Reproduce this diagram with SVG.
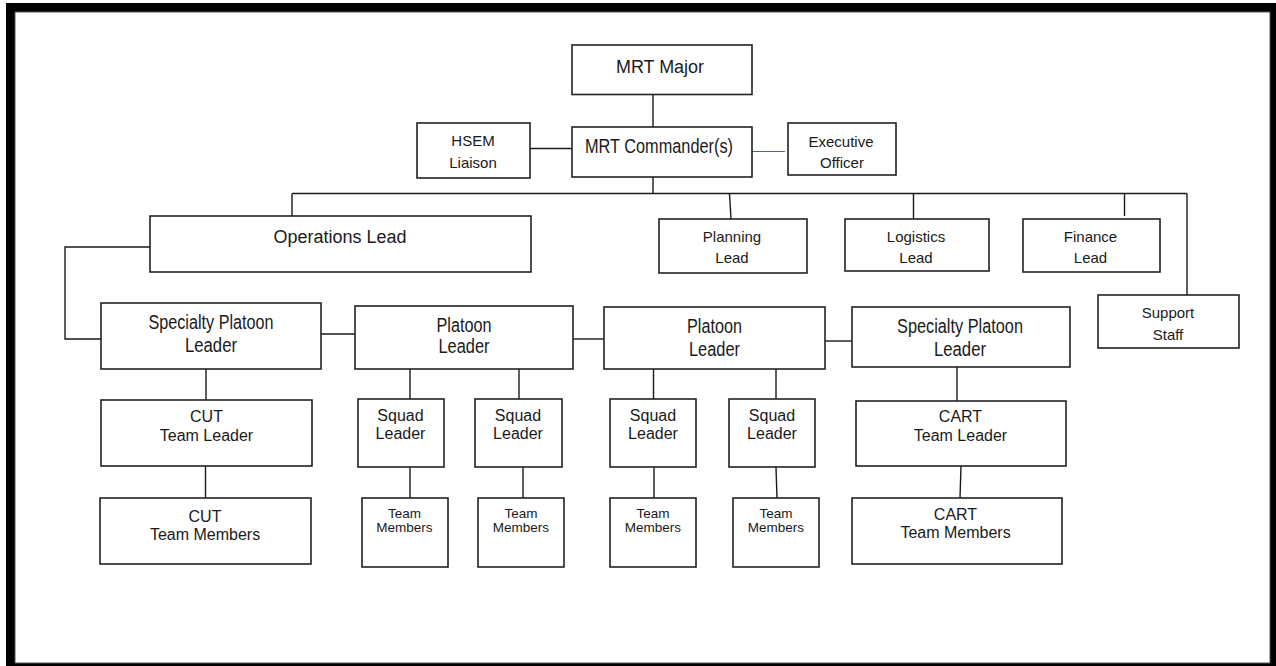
<svg xmlns="http://www.w3.org/2000/svg" width="1276" height="666" viewBox="0 0 1276 666">
<style>
.box{fill:#fff;stroke:#222;stroke-width:1.6}
.c{fill:none;stroke:#1a1a1a;stroke-width:1.4}
.cb{fill:none;stroke:#4e6484;stroke-width:1.2}
text{font-family:"Liberation Sans",Arial,sans-serif;fill:#1a1a1a;text-anchor:middle}
.s15{font-size:15px}
.s16{font-size:16px}
.s18{font-size:18px}
.n20{font-size:20px}
.s14{font-size:13.5px}
</style>
<rect x="0" y="0" width="1276" height="666" fill="#fff"/>
<rect x="6" y="3" width="1270" height="663" fill="#000"/>
<rect x="15" y="12" width="1255" height="651" fill="#fff" stroke="#555" stroke-width="1"/>

<g id="connectors">
<path class="c" d="M653,95V127"/>
<path class="c" d="M530,148.5H572"/>
<path class="cb" d="M752,151.5H785"/>
<path class="c" d="M653,177V193.5"/>
<path class="c" d="M292,193.5H1187"/>
<path class="c" d="M292,193.5V216"/>
<path class="c" d="M729.5,193.5L731,219"/>
<path class="c" d="M913.5,193.5V219"/>
<path class="c" d="M1124.5,193.5V216"/>
<path class="c" d="M1187,193.5V295"/>
<path class="c" d="M151,247H65V339H101"/>
<path class="c" d="M321,334H355"/>
<path class="c" d="M573,339H604"/>
<path class="c" d="M825,341H852"/>
<path class="c" d="M206,369V400"/>
<path class="c" d="M205.5,466V498"/>
<path class="c" d="M410,369V399"/>
<path class="c" d="M410,467V498"/>
<path class="c" d="M519,369V399"/>
<path class="c" d="M523,467V498"/>
<path class="c" d="M653.5,369V399"/>
<path class="c" d="M654,467V498"/>
<path class="c" d="M776,369V399"/>
<path class="c" d="M776,467L777,498"/>
<path class="c" d="M957,367V401"/>
<path class="c" d="M961,466L960,498"/>
</g>

<g id="mrt-major">
<rect class="box" x="572" y="45" width="180" height="49.5"/>
<text class="s18" x="660" y="73" textLength="88" lengthAdjust="spacingAndGlyphs">MRT Major</text>
</g>
<g id="hsem-liaison">
<rect class="box" x="417" y="123" width="113" height="55"/>
<text class="s15" x="473" y="146">HSEM</text>
<text class="s15" x="473" y="168">Liaison</text>
</g>
<g id="mrt-commander">
<rect class="box" x="572" y="127" width="180" height="50"/>
<text class="n20" x="659" y="153" textLength="148" lengthAdjust="spacingAndGlyphs">MRT Commander(s)</text>
</g>
<g id="executive-officer">
<rect class="box" x="788" y="123" width="108" height="52"/>
<text class="s15" x="841" y="146.5">Executive</text>
<text class="s15" x="842" y="168">Officer</text>
</g>
<g id="operations-lead">
<rect class="box" x="150" y="216" width="381" height="56"/>
<text class="s18" x="340" y="243" textLength="133" lengthAdjust="spacingAndGlyphs">Operations Lead</text>
</g>
<g id="planning-lead">
<rect class="box" x="659" y="219" width="148" height="54"/>
<text class="s15" x="732" y="242">Planning</text>
<text class="s15" x="732" y="263">Lead</text>
</g>
<g id="logistics-lead">
<rect class="box" x="845" y="219" width="144" height="52"/>
<text class="s15" x="916" y="242">Logistics</text>
<text class="s15" x="916" y="263">Lead</text>
</g>
<g id="finance-lead">
<rect class="box" x="1023" y="219" width="137" height="53"/>
<text class="s15" x="1090.5" y="242">Finance</text>
<text class="s15" x="1090.5" y="263">Lead</text>
</g>
<g id="support-staff">
<rect class="box" x="1098" y="295" width="141" height="53"/>
<text class="s15" x="1168" y="318">Support</text>
<text class="s15" x="1168" y="340">Staff</text>
</g>
<g id="specialty-platoon-leader-1">
<rect class="box" x="101" y="303" width="220" height="66"/>
<text class="n20" x="211" y="329" textLength="125" lengthAdjust="spacingAndGlyphs">Specialty Platoon</text>
<text class="n20" x="211" y="352" textLength="52" lengthAdjust="spacingAndGlyphs">Leader</text>
</g>
<g id="platoon-leader-1">
<rect class="box" x="355" y="306" width="218" height="63"/>
<text class="n20" x="464" y="332" textLength="55" lengthAdjust="spacingAndGlyphs">Platoon</text>
<text class="n20" x="464" y="353" textLength="51" lengthAdjust="spacingAndGlyphs">Leader</text>
</g>
<g id="platoon-leader-2">
<rect class="box" x="604" y="307" width="221" height="62"/>
<text class="n20" x="714.5" y="333" textLength="55" lengthAdjust="spacingAndGlyphs">Platoon</text>
<text class="n20" x="714.5" y="356" textLength="51" lengthAdjust="spacingAndGlyphs">Leader</text>
</g>
<g id="specialty-platoon-leader-2">
<rect class="box" x="852" y="307" width="218" height="60"/>
<text class="n20" x="960" y="333" textLength="126" lengthAdjust="spacingAndGlyphs">Specialty Platoon</text>
<text class="n20" x="960" y="356" textLength="52" lengthAdjust="spacingAndGlyphs">Leader</text>
</g>
<g id="cut-team-leader">
<rect class="box" x="101" y="400" width="211" height="66"/>
<text class="s16" x="206.5" y="422">CUT</text>
<text class="s16" x="206.5" y="441">Team Leader</text>
</g>
<g id="cut-team-members">
<rect class="box" x="100" y="498" width="211" height="66"/>
<text class="s16" x="205" y="522">CUT</text>
<text class="s16" x="205" y="540">Team Members</text>
</g>
<g id="squad-leader-1">
<rect class="box" x="358" y="399" width="86" height="68"/>
<text class="s16" x="400.5" y="421">Squad</text>
<text class="s16" x="400.5" y="439">Leader</text>
</g>
<g id="squad-leader-2">
<rect class="box" x="475" y="399" width="87" height="68"/>
<text class="s16" x="518" y="421">Squad</text>
<text class="s16" x="518" y="439">Leader</text>
</g>
<g id="squad-leader-3">
<rect class="box" x="610" y="399" width="86" height="68"/>
<text class="s16" x="653" y="421">Squad</text>
<text class="s16" x="653" y="439">Leader</text>
</g>
<g id="squad-leader-4">
<rect class="box" x="729" y="399" width="86" height="68"/>
<text class="s16" x="772" y="421">Squad</text>
<text class="s16" x="772" y="439">Leader</text>
</g>
<g id="team-members-1">
<rect class="box" x="362" y="498" width="86" height="69"/>
<text class="s14" x="404.5" y="518">Team</text>
<text class="s14" x="404.5" y="532">Members</text>
</g>
<g id="team-members-2">
<rect class="box" x="478" y="498" width="86" height="69"/>
<text class="s14" x="521" y="518">Team</text>
<text class="s14" x="521" y="532">Members</text>
</g>
<g id="team-members-3">
<rect class="box" x="610" y="498" width="86" height="69"/>
<text class="s14" x="653" y="518">Team</text>
<text class="s14" x="653" y="532">Members</text>
</g>
<g id="team-members-4">
<rect class="box" x="733" y="498" width="86" height="69"/>
<text class="s14" x="776" y="518">Team</text>
<text class="s14" x="776" y="532">Members</text>
</g>
<g id="cart-team-leader">
<rect class="box" x="856" y="401" width="210" height="65"/>
<text class="s16" x="960.5" y="422">CART</text>
<text class="s16" x="960.5" y="441">Team Leader</text>
</g>
<g id="cart-team-members">
<rect class="box" x="852" y="498" width="210" height="66"/>
<text class="s16" x="955.5" y="520">CART</text>
<text class="s16" x="955.5" y="538">Team Members</text>
</g>
</svg>
